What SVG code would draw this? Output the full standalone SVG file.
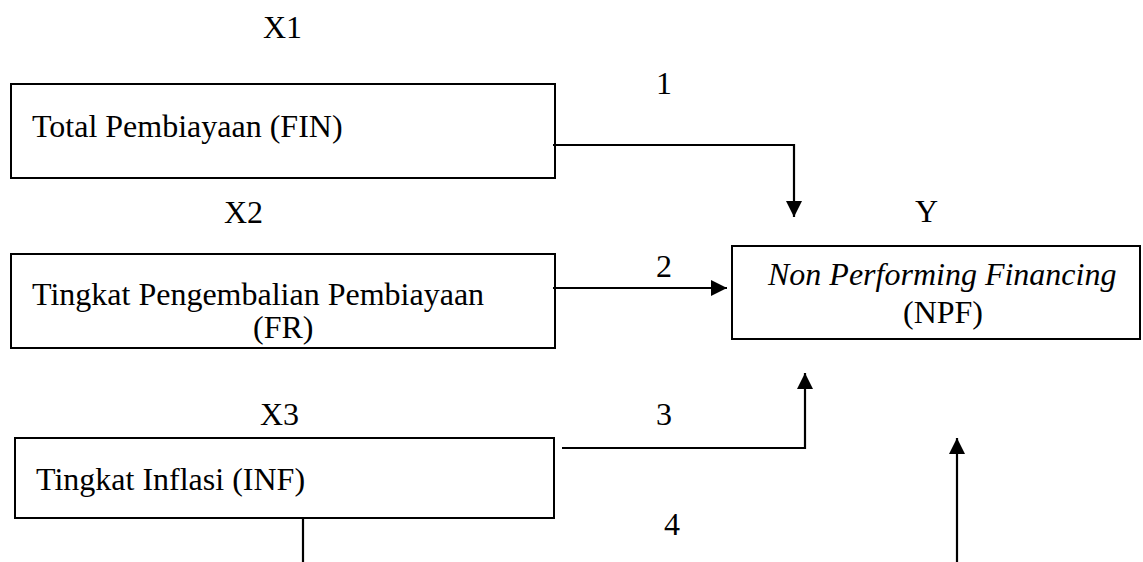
<svg xmlns="http://www.w3.org/2000/svg" width="1143" height="562" viewBox="0 0 1143 562">
<style>
.box{fill:#fff;stroke:#000;stroke-width:2}
text{font-family:'Liberation Serif',Times,serif;font-size:32px;fill:#000}
.i{font-style:italic}
.c{fill:none;stroke:#000;stroke-width:2.2}
</style>
<defs>
<marker id="ah" viewBox="0 0 16 16" refX="16" refY="8" markerWidth="16" markerHeight="16" markerUnits="userSpaceOnUse" orient="auto">
<path d="M0,0 L16,8 L0,16 Z" fill="#000"/>
</marker>
</defs>
<rect width="1143" height="562" fill="#fff"/>
<g id="labels">
<text x="263" y="38">X1</text>
<text x="224" y="223">X2</text>
<text x="260" y="425">X3</text>
<text x="915" y="222">Y</text>
<text x="656" y="94">1</text>
<text x="656" y="277">2</text>
<text x="656" y="425">3</text>
<text x="664" y="535">4</text>
</g>
<g id="fin">
<rect class="box" x="11" y="84" width="544" height="94"/>
<text x="32" y="137">Total Pembiayaan (FIN)</text>
</g>
<g id="fr">
<rect class="box" x="11" y="254" width="544" height="94"/>
<text x="32" y="305">Tingkat Pengembalian Pembiayaan</text>
<text x="253" y="338">(FR)</text>
</g>
<g id="inf">
<rect class="box" x="15" y="438" width="539" height="80"/>
<text x="36" y="490">Tingkat Inflasi (INF)</text>
</g>
<g id="npf">
<rect class="box" x="732" y="246" width="408" height="93"/>
<text class="i" x="768" y="285">Non Performing Financing</text>
<text x="903" y="323">(NPF)</text>
</g>
<g id="connectors">
<path class="c" d="M553,145 H794 V217" marker-end="url(#ah)"/>
<path class="c" d="M553,288 H727" marker-end="url(#ah)"/>
<path class="c" d="M562,448 H805 V373" marker-end="url(#ah)"/>
<path class="c" d="M957,562 V438" marker-end="url(#ah)"/>
<path class="c" d="M303,518 V562"/>
</g>
</svg>
